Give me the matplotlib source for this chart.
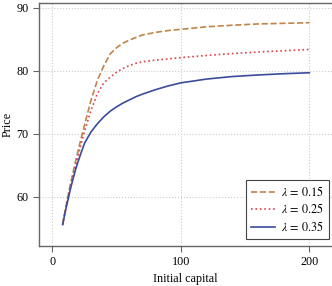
import matplotlib
matplotlib.use('Agg')
import matplotlib.pyplot as plt

capital = [8, 10, 12, 14, 16, 18, 20, 22, 25, 30, 35, 40, 45, 50, 55, 60, 65, 70,
           80, 90, 100, 120, 140, 160, 180, 200]
price_015 = [55.6, 57.9, 60.0, 62.0, 63.8, 65.6, 67.3, 69.0, 71.4, 75.3, 78.5, 80.8,
             82.7, 83.7, 84.4, 84.9, 85.3, 85.7, 86.1, 86.4, 86.6, 87.0, 87.25, 87.45,
             87.55, 87.65]
price_025 = [55.6, 57.8, 59.8, 61.6, 63.3, 65.0, 66.5, 68.1, 70.4, 73.7, 76.4, 78.1,
             79.0, 79.8, 80.4, 80.85, 81.2, 81.45, 81.7, 81.9, 82.1, 82.45, 82.75, 83.0,
             83.2, 83.4]
price_035 = [55.6, 57.6, 59.4, 61.2, 62.8, 64.3, 65.6, 66.8, 68.5, 70.3, 71.6, 72.7,
             73.6, 74.3, 74.9, 75.4, 75.9, 76.3, 77.0, 77.6, 78.1, 78.7, 79.1, 79.35,
             79.55, 79.7]

plt.rcParams['font.family'] = ['Liberation Serif', 'DejaVu Serif']
plt.rcParams['mathtext.fontset'] = 'stix'
plt.rcParams['font.size'] = 8.7

fig = plt.figure(figsize=(3.32, 2.86), dpi=100)
ax = fig.add_axes([0.116, 0.140, 0.884, 0.850])

ax.plot(capital, price_015, '--', color='#c0844a', lw=1.2, label=r'$\lambda\,=\,0.15$')
ax.plot(capital, price_025, ':', color='#e0404c', lw=1.2, label=r'$\lambda\,=\,0.25$')
ax.plot(capital, price_035, '-', color='#3a4c9c', lw=1.2, label=r'$\lambda\,=\,0.35$')

ax.set_xlim(-10.8, 217.6)
ax.set_ylim(52.2, 90.8)
ax.set_xticks([0, 100, 200])
ax.set_yticks([60, 70, 80, 90])
ax.grid(True, linestyle=':', color='#cccccc', lw=0.8)
ax.spines['right'].set_visible(False)
for s in ['left', 'bottom', 'top']:
    ax.spines[s].set_color('#666666')
    ax.spines[s].set_linewidth(1.0)
ax.tick_params(direction='out', length=4, width=0.8, color='#666666', pad=3)

ax.set_xlabel('Initial capital', labelpad=4)
ax.set_ylabel('Price', labelpad=2)

leg = ax.legend(loc='lower right', bbox_to_anchor=(0.99, 0.029), borderaxespad=0,
                fancybox=False, edgecolor='#444444', framealpha=1, handlelength=2.0,
                borderpad=0.4, labelspacing=0.3, handletextpad=0.5)
leg.get_frame().set_linewidth(0.8)

fig.savefig('out.png', dpi=100)
